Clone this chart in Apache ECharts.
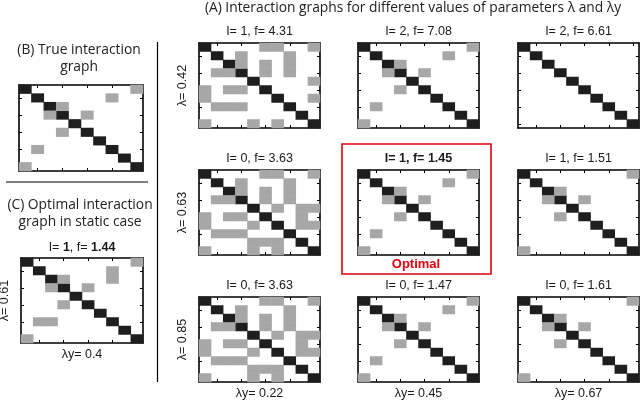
<!DOCTYPE html>
<html>
<head>
<meta charset="utf-8">
<script src="https://cdn.jsdelivr.net/npm/echarts@6/dist/echarts.min.js"></script>
<style>
  html, body { margin: 0; padding: 0; background: #fff; }
  #chart { width: 640px; height: 404px; }
</style>
</head>
<body>
<div id="chart"></div>
<script>
// matrix size and categories (nodes 1..10)
const nodes = ['1', '2', '3', '4', '5', '6', '7', '8', '9', '10'];

// off-diagonal links [row, col] (upper triangle, mirrored when drawn)
const edgesTrue = [[0, 9], [1, 7], [2, 3], [3, 5]];
const edgesStatic = [[0, 9], [1, 7], [2, 7], [2, 3], [3, 5]];
const edgesA00 = [[0, 5], [0, 6], [0, 9], [1, 3], [2, 3], [2, 5], [3, 5], [1, 7], [2, 7], [3, 7], [4, 9], [6, 9]];
const edgesDense = [[0, 5], [0, 6], [0, 9], [1, 3], [1, 7], [2, 3], [2, 5], [2, 7], [3, 5], [3, 7],
  [4, 6], [4, 8], [4, 9], [5, 8], [6, 8], [6, 9]];
const edgesSmall = [[0, 9], [2, 3], [3, 5]];
const edgesNone = [];

// parameters
const lambdaRow = ['0.42', '0.63', '0.85'];
const lambdaYCol = ['0.22', '0.45', '0.67'];
const iVals = [[1, 2, 2], [0, 1, 1], [0, 0, 0]];
const fVals = [['4.31', '7.08', '6.61'], ['3.63', '1.45', '1.51'], ['3.63', '1.47', '1.61']];
const edgesA = [[edgesA00, edgesTrue, edgesNone], [edgesDense, edgesTrue, edgesSmall], [edgesDense, edgesTrue, edgesSmall]];

const GRAY = '#a7a7a7';
const BLACK = '#1e1e1e';
const FONT = '"Liberation Sans", Arial, sans-serif';
const HFONT = '"Open Sans", sans-serif';
const FS = '12.5px ';

function buildMatrix(edges) {
  const out = [];
  for (let i = 0; i < nodes.length; i++) out.push([i, i, 2]);
  edges.forEach(function (e) {
    out.push([e[1], e[0], 1]);
    out.push([e[0], e[1], 1]);
  });
  return out;
}

const colX = [199, 358, 518];
const rowY = [43, 170, 297];
const boxW = 121, boxH = 85;

const panels = [];
for (let r = 0; r < 3; r++) {
  for (let c = 0; c < 3; c++) {
    panels.push({
      box: [colX[c], rowY[r], boxW, boxH],
      edges: edgesA[r][c],
      title: 'I= ' + iVals[r][c] + ', f= ' + fVals[r][c],
      bold: r === 1 && c === 1,
      ylabel: c === 0 ? 'λ= ' + lambdaRow[r] : null,
      xlabel: r === 2 ? 'λy= ' + lambdaYCol[c] : null
    });
  }
}
panels.push({ box: [19, 85, 124, 86], edges: edgesTrue });
panels.push({ box: [21, 258, 122, 85], edges: edgesStatic, titleRich: true, ylabel: 'λ= 0.61', xlabel: 'λy= 0.4' });

const grid = [], xAxis = [], yAxis = [], series = [], graphic = [];
const tickInterval = function (i) { return i % 2 === 1; };

panels.forEach(function (p, k) {
  const [l, t, w, h] = p.box;
  grid.push({ left: l, top: t, width: w, height: h, show: false });
  ['bottom', 'top'].forEach(function (pos) {
    xAxis.push({
      type: 'category', gridIndex: k, data: nodes, position: pos,
      axisLine: { show: true, onZero: false, lineStyle: { color: '#000', width: 1.6 } },
      axisTick: { show: true, inside: true, length: 3, alignWithLabel: true, interval: tickInterval, lineStyle: { color: '#000' } },
      axisLabel: { show: false }, splitLine: { show: false }
    });
  });
  ['left', 'right'].forEach(function (pos) {
    yAxis.push({
      type: 'category', gridIndex: k, data: nodes, inverse: true, position: pos,
      axisLine: { show: true, onZero: false, lineStyle: { color: '#000', width: 1.6 } },
      axisTick: { show: true, inside: true, length: 3, alignWithLabel: true, interval: tickInterval, lineStyle: { color: '#000' } },
      axisLabel: { show: false }, splitLine: { show: false }
    });
  });
  series.push({
    type: 'heatmap', xAxisIndex: 2 * k, yAxisIndex: 2 * k, z: 1,
    data: buildMatrix(p.edges)
  });

  const cx = l + w / 2;
  if (p.title) {
    graphic.push({ type: 'text', x: cx, y: t - 11, style: {
      text: p.title, align: 'center', verticalAlign: 'middle', fill: '#1a1a1a',
      font: (p.bold ? 'bold ' : '') + FS + FONT } });
  }
  if (p.titleRich) {
    graphic.push({ type: 'text', x: cx, y: t - 10, style: {
      text: '{n|I= }{b|1}{n|, f= }{b|1.44}', align: 'center', verticalAlign: 'middle',
      rich: { n: { font: FS + FONT, fill: '#1a1a1a' }, b: { font: 'bold ' + FS + FONT, fill: '#1a1a1a' } } } });
  }
  if (p.ylabel) {
    graphic.push({ type: 'text', x: l - 16, y: t + h / 2, rotation: Math.PI / 2, style: {
      text: p.ylabel, align: 'center', verticalAlign: 'middle', fill: '#1a1a1a', font: FS + FONT } });
  }
  if (p.xlabel) {
    graphic.push({ type: 'text', x: cx, y: t + h + 12, style: {
      text: p.xlabel, align: 'center', verticalAlign: 'middle', fill: '#1a1a1a', font: FS + FONT } });
  }
});

// headings, separators and the optimal frame
graphic.push(
  { type: 'text', x: 413, y: 8, style: { text: '(A) Interaction graphs for different values of parameters λ and λy',
    align: 'center', verticalAlign: 'middle', fill: '#222', font: '13.8px ' + HFONT } },
  { type: 'text', x: 79, y: 50, style: { text: '(B) True interaction', align: 'center', verticalAlign: 'middle', fill: '#222', font: '13.8px ' + HFONT } },
  { type: 'text', x: 79, y: 67, style: { text: 'graph', align: 'center', verticalAlign: 'middle', fill: '#222', font: '13.8px ' + HFONT } },
  { type: 'text', x: 80, y: 205, style: { text: '(C) Optimal interaction', align: 'center', verticalAlign: 'middle', fill: '#222', font: '13.8px ' + HFONT } },
  { type: 'text', x: 80, y: 222, style: { text: 'graph in static case', align: 'center', verticalAlign: 'middle', fill: '#222', font: '13.8px ' + HFONT } },
  { type: 'line', shape: { x1: 6, y1: 182, x2: 148, y2: 182 }, style: { stroke: '#000', lineWidth: 1 } },
  { type: 'line', shape: { x1: 157.5, y1: 42, x2: 157.5, y2: 382 }, style: { stroke: '#000', lineWidth: 1.2 } },
  { type: 'rect', shape: { x: 342, y: 144, width: 149, height: 130 }, style: { stroke: '#e3000f', fill: null, lineWidth: 1.6 } },
  { type: 'text', x: 416, y: 264, style: { text: 'Optimal', align: 'center', verticalAlign: 'middle', fill: '#e3000f', font: 'bold 13px ' + FONT } }
);

const chart = echarts.init(document.getElementById('chart'));
chart.setOption({
  animation: false,
  grid: grid,
  xAxis: xAxis,
  yAxis: yAxis,
  visualMap: {
    type: 'piecewise', show: false, dimension: 2,
    pieces: [{ value: 1, color: GRAY }, { value: 2, color: BLACK }]
  },
  series: series,
  graphic: graphic
});
</script>
</body>
</html>
